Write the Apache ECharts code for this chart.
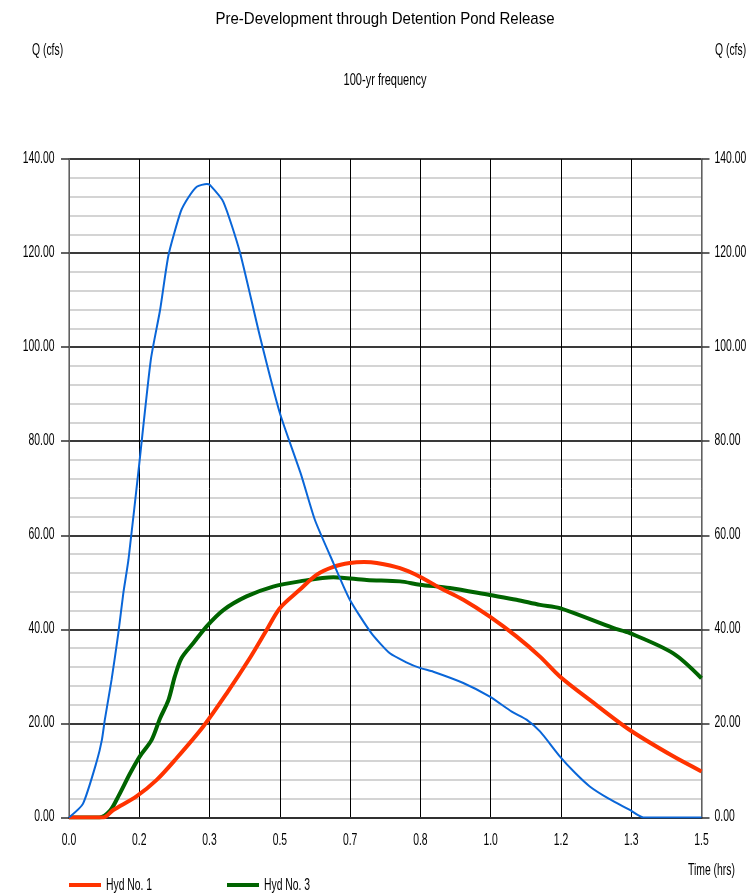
<!DOCTYPE html>
<html>
<head>
<meta charset="utf-8">
<script src="https://cdn.jsdelivr.net/npm/echarts@6/dist/echarts.min.js"></script>
<style>
html,body{margin:0;padding:0;background:#fff;}
#chart{width:756px;height:893px;}
</style>
</head>
<body>
<div id="chart"></div>
<script>
// Hyd No. 1 (red)
const hyd1T = [0, 0.081, 0.105, 0.16, 0.208, 0.255, 0.318, 0.374, 0.429, 0.469, 0.5, 0.547, 0.587, 0.627, 0.666, 0.7, 0.73, 0.785, 0.832, 0.88, 0.935, 0.998, 1.061, 1.117, 1.164, 1.235, 1.33, 1.433, 1.5];
const hyd1Q = [0, 0, 1.6, 4.5, 8.0, 12.6, 19.3, 26.4, 33.9, 39.9, 44.5, 48.4, 51.6, 53.3, 54.1, 54.3, 54.1, 53.0, 51.2, 48.8, 46.3, 42.7, 38.5, 34.2, 30.0, 25.0, 18.6, 13.0, 9.8];
// Hyd No. 2 (blue)
const hyd2T = [0, 0.033, 0.066, 0.078, 0.085, 0.101, 0.117, 0.129, 0.141, 0.167, 0.194, 0.216, 0.236, 0.265, 0.283, 0.303, 0.327, 0.334, 0.366, 0.405, 0.453, 0.5, 0.55, 0.583, 0.627, 0.666, 0.717, 0.761, 0.8, 0.832, 0.864, 0.935, 0.998, 1.05, 1.085, 1.117, 1.164, 1.2, 1.235, 1.28, 1.33, 1.362, 1.5];
const hyd2Q = [0, 2.9, 12, 16.5, 20.8, 29.3, 39.2, 47.8, 54.8, 75.5, 97.3, 107.9, 119.6, 128.8, 131.8, 134.1, 134.7, 134.5, 130.9, 120.3, 102.2, 86, 73, 63.3, 54.1, 46.3, 39.2, 34.9, 33.0, 31.8, 31.0, 28.6, 25.7, 22.5, 20.8, 18.3, 13.0, 9.5, 6.6, 4.0, 1.6, 0, 0];
// Hyd No. 3 (green)
const hyd3T = [0, 0.072, 0.097, 0.117, 0.145, 0.168, 0.196, 0.216, 0.236, 0.251, 0.267, 0.295, 0.326, 0.366, 0.421, 0.484, 0.547, 0.627, 0.706, 0.785, 0.832, 0.903, 0.998, 1.061, 1.117, 1.164, 1.29, 1.33, 1.433, 1.5];
const hyd3Q = [0, 0, 1.4, 4.5, 9.4, 13.0, 16.5, 21.1, 25.0, 30.0, 33.9, 37.1, 40.6, 44.1, 47.0, 49.1, 50.2, 51.1, 50.5, 50.2, 49.5, 48.8, 47.3, 46.3, 45.2, 44.5, 40.3, 39.2, 34.9, 29.6];

// tick values and their labels
const xTickValues = [0, 1.5/9, 3/9, 0.5, 6/9, 7.5/9, 1.0, 10.5/9, 12/9, 1.5];
const xTickLabels = ['0.0', '0.2', '0.3', '0.5', '0.7', '0.8', '1.0', '1.2', '1.3', '1.5'];
const yTickValues = [0, 20, 40, 60, 80, 100, 120, 140];
const yTickLabels = ['0.00', '20.00', '40.00', '60.00', '80.00', '100.00', '120.00', '140.00'];

const seriesNames = ['Hyd No. 1', 'Hyd No. 2', 'Hyd No. 3'];
const legendNames = ['Hyd No. 1', 'Hyd No. 3'];
const seriesColors = {'Hyd No. 1': '#ff3300', 'Hyd No. 2': '#0a66d8', 'Hyd No. 3': '#006400'};
const titleText = 'Pre-Development through Detention Pond Release';
const subText = '100-yr frequency';
const yName = 'Q (cfs)';
const xName = 'Time (hrs)';

const FONT = "'Liberation Sans', Arial, sans-serif";
const SMALL = '17px ' + FONT;
const SX = 0.61;
const pairs = (t, q) => t.map((v, i) => [v, q[i]]);

const chart = echarts.init(document.getElementById('chart'), null, {renderer: 'canvas'});
const yAxisCommon = {
  type: 'value', min: 0, max: 140, interval: 20,
  axisLine: {show: true, lineStyle: {color: '#808080', width: 1.5}},
  axisTick: {show: true, inside: false, length: 8, lineStyle: {color: '#303030', width: 1.5}},
  axisLabel: {show: false}
};
chart.setOption({
  animation: false,
  backgroundColor: '#fff',
  grid: {left: 69, right: 54.5, top: 159, bottom: 75.5, containLabel: false},
  xAxis: {
    type: 'value', min: 0, max: 1.5, interval: 1.5 / 9,
    axisLine: {show: true, onZero: false, lineStyle: {color: '#303030', width: 2}},
    axisTick: {show: false},
    axisLabel: {show: false},
    splitLine: {show: true, lineStyle: {color: '#000', width: 1}}
  },
  yAxis: [
    Object.assign({}, yAxisCommon, {
      position: 'left',
      minorTick: {show: false, splitNumber: 5},
      minorSplitLine: {show: true, lineStyle: {color: '#d4d4d4', width: 2}},
      splitLine: {show: true, lineStyle: {color: '#3a3a3a', width: 2}}
    }),
    Object.assign({}, yAxisCommon, {
      position: 'right',
      splitLine: {show: false}
    })
  ],
  series: [
    {name: seriesNames[0], type: 'line', data: pairs(hyd1T, hyd1Q), showSymbol: false, smooth: 0.3,
     lineStyle: {color: seriesColors['Hyd No. 1'], width: 4}, itemStyle: {color: seriesColors['Hyd No. 1']}, z: 3},
    {name: seriesNames[2], type: 'line', data: pairs(hyd3T, hyd3Q), showSymbol: false, smooth: 0.3,
     lineStyle: {color: seriesColors['Hyd No. 3'], width: 4}, itemStyle: {color: seriesColors['Hyd No. 3']}, z: 2},
    {name: seriesNames[1], type: 'line', data: pairs(hyd2T, hyd2Q), showSymbol: false, smooth: 0.2,
     lineStyle: {color: seriesColors['Hyd No. 2'], width: 2}, itemStyle: {color: seriesColors['Hyd No. 2']}, z: 4}
  ]
});

// narrow (horizontally condensed) text like the original
function txt(text, x, y, align, font, sx) {
  return {type: 'text', x: x, y: y, scaleX: sx, silent: true, z: 10,
    style: {text: text, font: font, fill: '#000', align: align, verticalAlign: 'middle',
            textAlign: align, textVerticalAlign: 'middle'}};
}
const g = [];
g.push(txt(titleText, 385, 19, 'center', '17px ' + FONT, 0.884));
g.push(txt(yName, 32, 50, 'left', SMALL, SX));
g.push(txt(yName, 715, 50, 'left', SMALL, SX));
g.push(txt(subText, 385, 80, 'center', SMALL, 0.65));
g.push(txt(xName, 688, 870, 'left', SMALL, SX));
const xLeft = chart.convertToPixel({xAxisIndex: 0}, 1.5);
yTickValues.forEach((v, i) => {
  const py = chart.convertToPixel({yAxisIndex: 0}, v);
  g.push(txt(yTickLabels[i], 54.5, py - 1, 'right', SMALL, SX));
  g.push(txt(yTickLabels[i], xLeft + 13, py - 1, 'left', SMALL, SX));
});
xTickValues.forEach((v, i) => {
  const px = chart.convertToPixel({xAxisIndex: 0}, v);
  g.push(txt(xTickLabels[i], px, 840, 'center', SMALL, SX));
});
// legend
let lx = 69;
legendNames.forEach(name => {
  g.push({type: 'line', silent: true, shape: {x1: lx, y1: 885, x2: lx + 32, y2: 885},
          style: {stroke: seriesColors[name], lineWidth: 4}});
  g.push(txt(name, lx + 37, 885, 'left', SMALL, SX));
  lx += 158;
});
chart.setOption({graphic: g});
</script>
</body>
</html>
